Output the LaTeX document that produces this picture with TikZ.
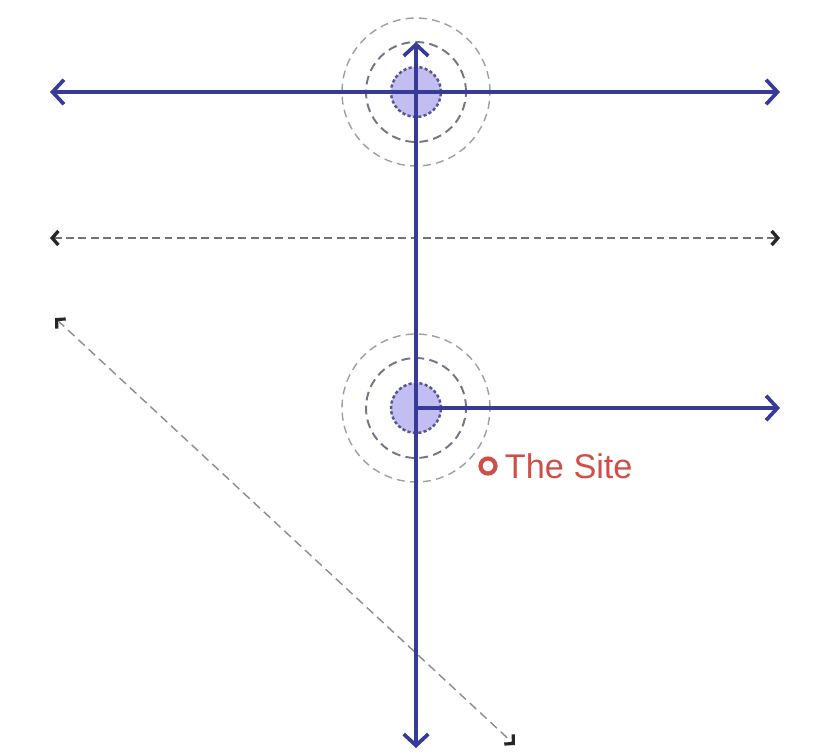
\documentclass[tikz,border=0pt]{standalone}
\usepackage{fontspec}
\setmainfont{Liberation Sans}
\usetikzlibrary{arrows.meta,positioning}
\definecolor{RouteBlue}{HTML}{383A98}
\definecolor{CoreFill}{HTML}{C2BEF2}
\definecolor{RingGrey}{HTML}{747486}
\definecolor{SiteRed}{HTML}{CF4E48}

\begin{document}
\begin{tikzpicture}[
	x=0.02cm, y=-0.02cm,
	core/.style={circle, minimum size=1cm, inner sep=0pt, fill=CoreFill, draw=RingGrey!50!RouteBlue, dash pattern=on 1.8pt off 1.3pt, line width=1.4pt},
	ring/.style={circle, minimum size=2cm, inner sep=0pt, draw=RingGrey, dash pattern=on 5pt off 3pt, line width=1.1pt},
	halo/.style={circle, minimum size=2.96cm, inner sep=0pt, draw=RingGrey!70, dash pattern=on 4.5pt off 3pt, line width=0.8pt},
	route/.style={RouteBlue, line width=2.1pt},
	tip/.style={-{Straight Barb[length=6.5pt,width=14pt]}},
	link/.style={black!55, line width=1.1pt, dash pattern=on 4.5pt off 2.5pt, {Straight Barb[length=3.5pt,width=8pt,color=black!85,line width=1.9pt]}-{Straight Barb[length=3.5pt,width=8pt,color=black!85,line width=1.9pt]}},
	trace/.style={black!45, line width=0.8pt, dash pattern=on 5pt off 3pt, {Straight Barb[length=3.6pt,width=7.5pt,color=black!85,line width=1.8pt]}-{Straight Barb[length=3.6pt,width=7.5pt,color=black!85,line width=1.8pt]}},
	site/.style={circle, minimum size=0.3cm, inner sep=0pt, draw=SiteRed, line width=2.4pt},
	sitetext/.style={text=SiteRed, inner sep=0pt, font=\fontsize{19.5}{23}\selectfont}
]
\useasboundingbox (0,0) rectangle (815,754);

% hubs
\node[halo] (northhalo) at (416,92) {};
\node[ring] (northring) at (416,92) {};
\node[core] (north) at (416,92) {};
\node[halo] (southhalo) at (416,408) {};
\node[ring] (southring) at (416,408) {};
\node[core] (south) at (416,408) {};

% route ends
\coordinate (westend) at (50,92);
\coordinate (eastend) at (780,92);
\coordinate (topend) at (416,42);
\coordinate (bottomend) at (416,748);
\coordinate (spurend) at (780,408);
\coordinate (linkwest) at (50,238);
\coordinate (linkeast) at (780,238);
\coordinate (tracestart) at (55,318);
\coordinate (traceend) at (515,745);

\draw[trace] (tracestart) -- (traceend);
\draw[link] (linkwest) -- (linkeast);
\draw[route, tip] (north.center) -- (westend);
\draw[route, tip] (north.center) -- (eastend);
\draw[route, tip] (north.center) -- (topend);
\draw[route] (north.center) -- (south.center);
\draw[route, tip] (south.center) -- (bottomend);
\draw[route, tip] (south.center) -- (spurend);

% site marker
\node[site] (site) at (488,466) {};
\node[sitetext, right=4pt of site] (sitelabel) {The Site};
\end{tikzpicture}
\end{document}
